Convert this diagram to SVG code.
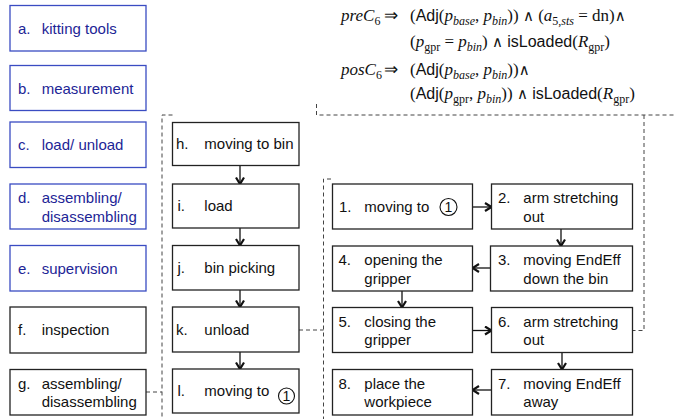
<svg xmlns="http://www.w3.org/2000/svg" width="676" height="419" viewBox="0 0 676 419">
  <defs>
    <style>
      .box { fill: #ffffff; stroke: #222222; stroke-width: 1.3; }
      .box.blue { stroke: #3a4cc2; }
      .t { font-family: "Liberation Sans", Arial, sans-serif; font-size: 15px; fill: #111111; }
      .blue .t, .t.blue { fill: #1d2596; }
      .edge { fill: none; stroke: #111111; stroke-width: 1.3; marker-end: url(#chev); }
      .dash { fill: none; stroke: #444444; stroke-width: 1; stroke-dasharray: 4 3; }
      .circ { fill: none; stroke: #111111; stroke-width: 1.1; }
      .m { font-family: "Liberation Serif", "Times New Roman", serif; font-size: 17px; fill: #111111; }
      .mi { font-style: italic; }
      .sf { font-family: "Liberation Sans", Arial, sans-serif; font-size: 16px; }
      .sub { font-size: 12px; }
      .op { font-family: "DejaVu Sans", sans-serif; font-size: 15px; }
    </style>
    <marker id="chev" viewBox="0 0 10 10" refX="8" refY="5" markerWidth="10" markerHeight="10" markerUnits="userSpaceOnUse" orient="auto">
      <path d="M1.5,1 L8,5 L1.5,9" fill="none" stroke="#111111" stroke-width="2.2"/>
    </marker>
  </defs>

  <!-- conditions of step 6 -->
  <g id="conditions">
    <text class="m" y="21"><tspan x="341" class="mi">preC</tspan><tspan class="sub" dy="4">6</tspan><tspan x="384" dy="-4">⇒</tspan><tspan x="410">(</tspan><tspan class="sf">Adj</tspan>(<tspan class="mi">p</tspan><tspan class="sub mi" dy="4">base</tspan><tspan dy="-4">, </tspan><tspan class="mi">p</tspan><tspan class="sub mi" dy="4">bin</tspan><tspan dy="-4">)) </tspan><tspan class="op">∧</tspan> (<tspan class="mi">a</tspan><tspan class="sub" dy="4">5,<tspan class="mi">sts</tspan></tspan><tspan dy="-4"> = dn)</tspan><tspan class="op">∧</tspan></text>
    <text class="m" y="47"><tspan x="410">(</tspan><tspan class="mi">p</tspan><tspan class="sub" dy="4">gpr</tspan><tspan dy="-4"> = </tspan><tspan class="mi">p</tspan><tspan class="sub mi" dy="4">bin</tspan><tspan dy="-4">) </tspan><tspan class="op">∧</tspan> <tspan class="sf">isLoaded</tspan>(<tspan class="mi">R</tspan><tspan class="sub" dy="4">gpr</tspan><tspan dy="-4">)</tspan></text>
    <text class="m" y="75"><tspan x="341" class="mi">posC</tspan><tspan class="sub" dy="4">6</tspan><tspan x="384" dy="-4">⇒</tspan><tspan x="410">(</tspan><tspan class="sf">Adj</tspan>(<tspan class="mi">p</tspan><tspan class="sub mi" dy="4">base</tspan><tspan dy="-4">, </tspan><tspan class="mi">p</tspan><tspan class="sub mi" dy="4">bin</tspan><tspan dy="-4">))</tspan><tspan class="op">∧</tspan></text>
    <text class="m" y="99"><tspan x="410">(</tspan><tspan class="sf">Adj</tspan>(<tspan class="mi">p</tspan><tspan class="sub" dy="4">gpr</tspan><tspan dy="-4">, </tspan><tspan class="mi">p</tspan><tspan class="sub mi" dy="4">bin</tspan><tspan dy="-4">)) </tspan><tspan class="op">∧</tspan> <tspan class="sf">isLoaded</tspan>(<tspan class="mi">R</tspan><tspan class="sub" dy="4">gpr</tspan><tspan dy="-4">)</tspan></text>
  </g>

  <!-- connectors -->
  <g id="connectors">
    <path class="dash" d="M316.5,104 V115 H676"/>
    <path class="dash" d="M644,115 V330.5 H632.5"/>
    <path class="dash" d="M172.5,115 H162 V419"/>
    <path class="dash" d="M146,392 H162"/>
    <path class="dash" d="M331,179 H323.5 V419"/>
    <path class="dash" d="M299,330 H323.5"/>

    <path class="edge" d="M240,165.5 V184"/>
    <path class="edge" d="M240,228 V245.5"/>
    <path class="edge" d="M240,290 V307"/>
    <path class="edge" d="M240,352 V369"/>

    <path class="edge" d="M472.5,207 H491.5"/>
    <path class="edge" d="M561,229 V246"/>
    <path class="edge" d="M490.5,268 H472.5"/>
    <path class="edge" d="M402,291 V307.5"/>
    <path class="edge" d="M472.5,330.5 H491.5"/>
    <path class="edge" d="M562,352.5 V369.5"/>
    <path class="edge" d="M491.5,390 H472.5"/>
  </g>

  <!-- left column -->
  <g id="a" class="blue">
    <rect class="box blue" x="10" y="5.5" width="136" height="45.5"/>
    <text class="t" x="18" y="34">a.</text><text class="t" x="41.7" y="34">kitting tools</text>
  </g>
  <g id="b" class="blue">
    <rect class="box blue" x="10" y="65.5" width="136" height="45"/>
    <text class="t" x="18" y="93.5">b.</text><text class="t" x="41.7" y="93.5">measurement</text>
  </g>
  <g id="c" class="blue">
    <rect class="box blue" x="10" y="122" width="136" height="45.5"/>
    <text class="t" x="18" y="150">c.</text><text class="t" x="41.7" y="150">load/ unload</text>
  </g>
  <g id="d" class="blue">
    <rect class="box blue" x="10" y="184" width="136" height="45"/>
    <text class="t" x="18" y="203">d.</text><text class="t" x="41.7" y="203">assembling/</text>
    <text class="t" x="41.7" y="221.5">disassembling</text>
  </g>
  <g id="e" class="blue">
    <rect class="box blue" x="10" y="245.5" width="136" height="45.5"/>
    <text class="t" x="18" y="273.5">e.</text><text class="t" x="41.7" y="273.5">supervision</text>
  </g>
  <g id="f">
    <rect class="box" x="10" y="307" width="136" height="46"/>
    <text class="t" x="18" y="335">f.</text><text class="t" x="41.7" y="335">inspection</text>
  </g>
  <g id="g">
    <rect class="box" x="10" y="369.5" width="136" height="45.5"/>
    <text class="t" x="18" y="388.5">g.</text><text class="t" x="41.7" y="388.5">assembling/</text>
    <text class="t" x="41.7" y="407">disassembling</text>
  </g>

  <!-- middle column -->
  <g id="h">
    <rect class="box" x="172.5" y="122.5" width="126.5" height="43"/>
    <text class="t" x="176" y="149">h.</text><text class="t" x="204.3" y="149">moving to bin</text>
  </g>
  <g id="i">
    <rect class="box" x="172.5" y="184" width="126.5" height="44"/>
    <text class="t" x="177.5" y="211">i.</text><text class="t" x="204.3" y="211">load</text>
  </g>
  <g id="j">
    <rect class="box" x="172.5" y="245.5" width="126.5" height="44.5"/>
    <text class="t" x="177.5" y="273">j.</text><text class="t" x="204.3" y="273">bin picking</text>
  </g>
  <g id="k">
    <rect class="box" x="172.5" y="307" width="126.5" height="45"/>
    <text class="t" x="176" y="334.5">k.</text><text class="t" x="204.3" y="334.5">unload</text>
  </g>
  <g id="l">
    <rect class="box" x="172.5" y="369" width="126.5" height="44"/>
    <text class="t" x="177.5" y="396">l.</text><text class="t" x="204.3" y="396">moving to</text>
    <circle class="circ" cx="286.5" cy="396" r="8"/>
    <text class="t" x="286.5" y="401" text-anchor="middle" style="font-size:14px">1</text>
  </g>

  <!-- right group: steps of bin picking -->
  <g id="s1">
    <rect class="box" x="332.5" y="184" width="140" height="45"/>
    <text class="t" x="339" y="211.5">1.</text><text class="t" x="364.3" y="211.5">moving to</text>
    <circle class="circ" cx="448.5" cy="207" r="8.5"/>
    <text class="t" x="448.5" y="212" text-anchor="middle" style="font-size:14px">1</text>
  </g>
  <g id="s2">
    <rect class="box" x="491.5" y="184" width="141" height="45"/>
    <text class="t" x="498" y="203">2.</text><text class="t" x="523.3" y="203">arm stretching</text>
    <text class="t" x="523.3" y="221.5">out</text>
  </g>
  <g id="s3">
    <rect class="box" x="490.5" y="246" width="142" height="45"/>
    <text class="t" x="498" y="265">3.</text><text class="t" x="523.3" y="265">moving EndEff</text>
    <text class="t" x="523.3" y="283.5">down the bin</text>
  </g>
  <g id="s4">
    <rect class="box" x="332.5" y="246" width="140" height="45"/>
    <text class="t" x="338.5" y="265">4.</text><text class="t" x="364.3" y="265">opening the</text>
    <text class="t" x="364.3" y="283.5">gripper</text>
  </g>
  <g id="s5">
    <rect class="box" x="332.5" y="307.5" width="140" height="45"/>
    <text class="t" x="338.5" y="326.5">5.</text><text class="t" x="364.3" y="326.5">closing the</text>
    <text class="t" x="364.3" y="345">gripper</text>
  </g>
  <g id="s6">
    <rect class="box" x="491.5" y="307.5" width="141" height="45"/>
    <text class="t" x="498" y="326.5">6.</text><text class="t" x="523.3" y="326.5">arm stretching</text>
    <text class="t" x="523.3" y="345">out</text>
  </g>
  <g id="s7">
    <rect class="box" x="491.5" y="369.5" width="141" height="45.5"/>
    <text class="t" x="498" y="388.5">7.</text><text class="t" x="523.3" y="388.5">moving EndEff</text>
    <text class="t" x="523.3" y="407">away</text>
  </g>
  <g id="s8">
    <rect class="box" x="332.5" y="369.5" width="140" height="45.5"/>
    <text class="t" x="338.5" y="388.5">8.</text><text class="t" x="364.3" y="388.5">place the</text>
    <text class="t" x="364.3" y="407">workpiece</text>
  </g>
</svg>
